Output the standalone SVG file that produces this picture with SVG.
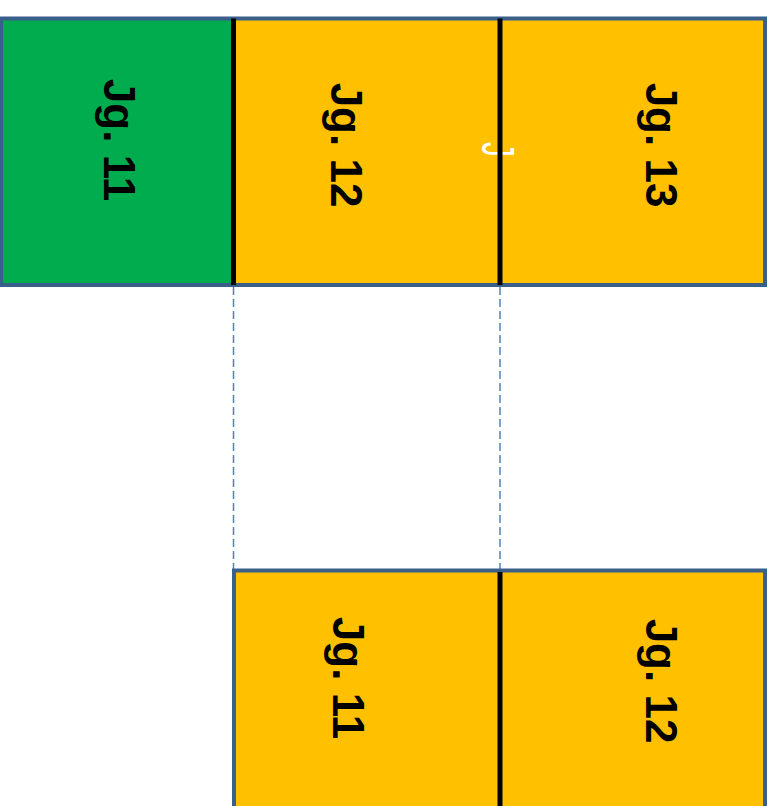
<svg xmlns="http://www.w3.org/2000/svg" width="777" height="806" viewBox="0 0 777 806">
<style>
.cell{stroke:none}
.green{fill:#00AC4E}
.yellow{fill:#FFC000}
.frame{fill:none;stroke:#3A5F8B;stroke-width:4}
.div{stroke:#000;stroke-width:5}
.lbl{font-family:"Liberation Sans",Arial,sans-serif;font-weight:bold;font-size:44px;fill:#000;text-anchor:middle}
.conn{stroke:#4F81BD;stroke-width:1.5;stroke-dasharray:8 4;fill:none}
</style>
<rect width="777" height="806" fill="#fff"/>
<g id="connectors">
<line class="conn" x1="233.5" y1="287" x2="233.5" y2="569"/>
<line class="conn" x1="500" y1="287" x2="500" y2="569"/>
</g>
<g id="top-row">
<g id="top-jg11">
<rect class="cell green" x="1" y="18.5" width="232.5" height="266.5"/>
<text class="lbl" transform="translate(104,140) rotate(90)">Jg. 11</text>
</g>
<g id="top-jg13">
<rect class="cell yellow" x="500" y="18.5" width="265" height="266.5"/>
<text class="lbl" transform="translate(646,145) rotate(90)">Jg. 13</text>
</g>
<g id="top-jg12">
<rect class="cell yellow" x="233.5" y="18.5" width="266.5" height="266.5"/>
<text class="lbl" transform="translate(331,145) rotate(90)">Jg. 12</text>
<text transform="translate(482,142) rotate(90) scale(0.65,1)" font-family="Liberation Sans, Arial, sans-serif" font-size="46" fill="#fff">J</text>
</g>
<rect class="frame" x="1" y="18.5" width="764" height="266.5"/>
<line class="div" x1="233.5" y1="18.5" x2="233.5" y2="285"/>
<line class="div" x1="500" y1="18.5" x2="500" y2="285"/>
</g>
<g id="bottom-row">
<g id="bottom-jg11">
<rect class="cell yellow" x="234" y="570.5" width="266" height="240"/>
<text class="lbl" transform="translate(333,678) rotate(90)">Jg. 11</text>
</g>
<g id="bottom-jg12">
<rect class="cell yellow" x="500" y="570.5" width="265" height="240"/>
<text class="lbl" transform="translate(646,681) rotate(90)">Jg. 12</text>
</g>
<rect class="frame" x="234" y="570.5" width="531" height="250"/>
<line class="div" x1="500" y1="572" x2="500" y2="806"/>
</g>
</svg>
